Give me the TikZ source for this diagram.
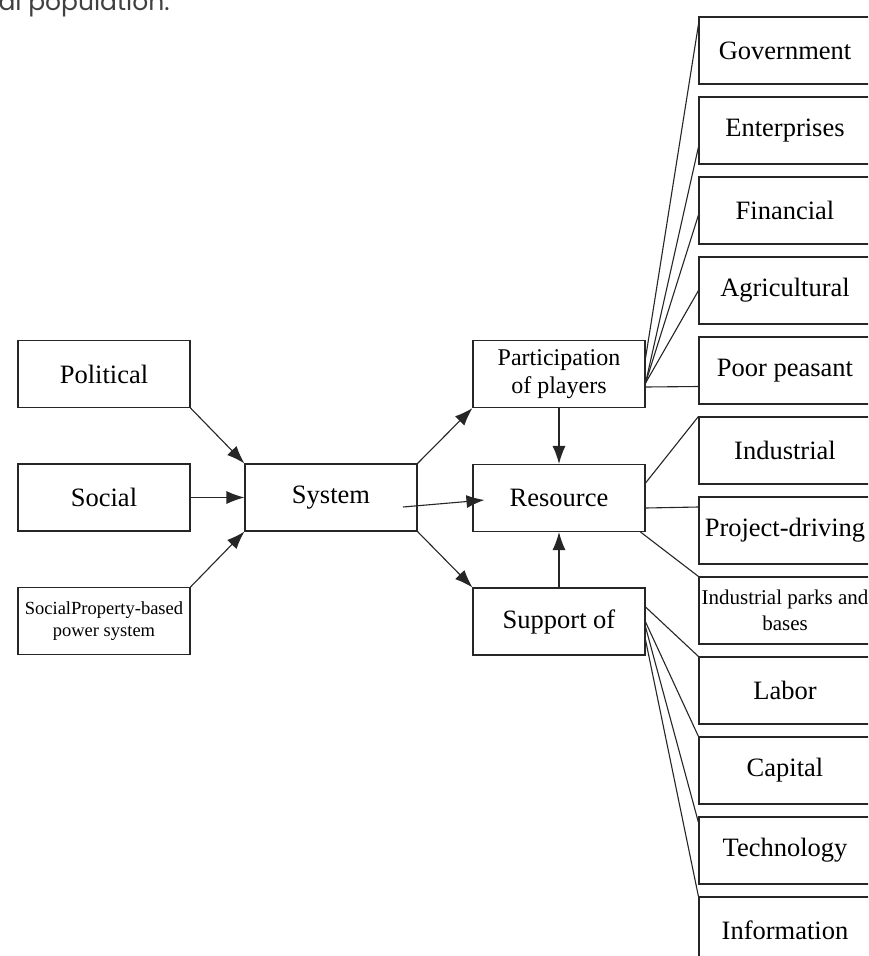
\documentclass[tikz,border=0pt]{standalone}
\usepackage{fontspec}
\setmainfont{Liberation Serif}
\newfontfamily\popfont{Poppins}
\usetikzlibrary{calc,arrows.meta}
\begin{document}
\begin{tikzpicture}[x=1pt,y=-1pt,>={Latex[length=18pt,width=13pt]},
box/.style={draw=black!85,line width=1.1pt,minimum width=172pt,minimum height=67pt,inner sep=1pt,align=center,font=\fontsize{26.5}{30}\selectfont},
link/.style={draw=black!85,line width=1.1pt}]
\clip (0,0) rectangle (868,956);\fill[white] (0,0) rectangle (868,956);
\node[anchor=base west,font=\popfont\fontsize{25}{28}\selectfont,text=black!75] (txt) at (-5,10) {al population.};
\node[box] (pol) at (104,374) {Political};\node[box] (soc) at (104,497.5) {Social};
\node[box,font=\fontsize{18.5}{22}\selectfont] (spb) at (104,621) {SocialProperty-based\\power system};
\node[box] (sys) at (331,497.5) {System};
\node[box,font=\fontsize{24}{28}\selectfont] (par) at (559,374) {Participation\\of players};
\node[box] (res) at (559,498) {Resource};\node[box] (sup) at (559,621.5) {Support of};
\node[box] (gov) at (785,50.5) {Government};\node[box] (ent) at (785,130.5) {Enterprises};
\node[box] (fin) at (785,210.5) {Financial};\node[box] (agr) at (785,290.5) {Agricultural};
\node[box] (poor) at (785,370.5) {Poor peasant};\node[box] (ind) at (785,450.5) {Industrial};
\node[box] (proj) at (785,530.5) {Project-driving};
\node[box,font=\fontsize{21}{26}\selectfont] (park) at (785,610.5) {Industrial parks and\\bases};
\node[box] (lab) at (785,690.5) {Labor};\node[box] (cap) at (785,770.5) {Capital};
\node[box] (tech) at (785,850.5) {Technology};\node[box] (info) at (785,930.5) {Information};
\draw[link,->] (pol.south east)--(sys.north west);\draw[link,->] (soc.east)--(sys.west);
\draw[link,->] (spb.north east)--(sys.south west);
\draw[link,->] (sys.north east)--(par.south west);\draw[link,->] (sys.south east)--(sup.north west);
\draw[link,->] ($(sys.center)+(72,9.5)$)--($(res.west)+(12,2)$);
\draw[link,->] (par.south)--(res.north);\draw[link,->] (sup.north)--(res.south);
\draw[link] ($(par.east)+(0,-16)$)--($(gov.north west)+(0,8)$);
\draw[link] ($(par.east)+(0,9)$)--($(ent.west)+(0,16.5)$);
\draw[link] ($(par.east)+(0,9)$)--($(fin.west)+(0,4.5)$);
\draw[link] ($(par.east)+(0,9)$)--(agr.west);
\draw[link] ($(par.east)+(0,13)$)--($(poor.west)+(0,16)$);
\draw[link] ($(res.east)+(0,-15)$)--(ind.north west);
\draw[link] ($(res.east)+(0,10)$)--($(proj.west)+(0,-23.5)$);
\draw[link] ($(res.south east)+(-5,0)$)--(park.north west);
\draw[link] ($(sup.east)+(0,-14.5)$)--(lab.north west);
\draw[link] ($(sup.east)+(0,0.5)$)--(cap.north west);
\draw[link] ($(sup.east)+(0,5.5)$)--($(tech.north west)+(0,6)$);
\draw[link] ($(sup.east)+(0,18.5)$)--(info.north west);
\end{tikzpicture}
\end{document}
